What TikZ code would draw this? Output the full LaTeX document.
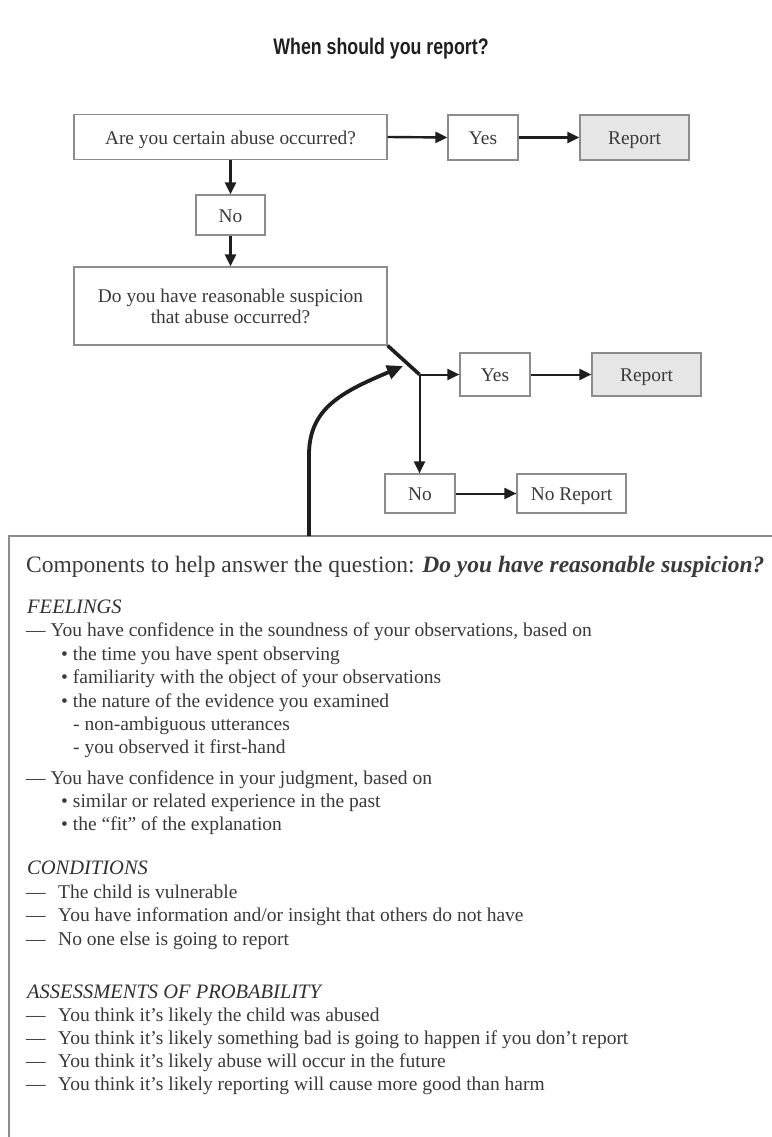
\documentclass[tikz,border=0pt]{standalone}
\usepackage{fontspec}
\setmainfont{Liberation Serif}
\newfontfamily\titlefont[FakeStretch=0.79]{Liberation Sans}
\usetikzlibrary{arrows.meta}
\definecolor{boxgray}{HTML}{8C8C8C}
\definecolor{repfill}{HTML}{E6E6E6}
\definecolor{arrowc}{HTML}{1E1E1E}
\definecolor{txt}{HTML}{3A3A3A}
\newcommand{\flowfont}{\fontsize{19.4}{21}\selectfont}
\newcommand{\listfont}{\fontsize{19.5}{23}\selectfont}
\newcommand{\secfont}{\fontsize{20.5}{23}\selectfont\itshape}
\tikzset{
  fbox/.style={draw=boxgray, line width=1.2pt, fill=white, inner sep=0pt,
    text=txt, font=\flowfont, align=center},
  onel/.style={fbox, text height=16pt, text depth=2pt},
  rbox/.style={onel, fill=repfill},
  arr/.style={draw=arrowc, line width=2.4pt, -{Triangle[length=12pt,width=11pt]}},
  thickline/.style={draw=arrowc, line width=3.6pt},
  bigarr/.style={draw=arrowc, line width=3.8pt, -{Triangle[length=16pt,width=14pt]}},
  tl/.style={anchor=base west, inner sep=0pt, text=txt, font=\listfont},
  sec/.style={anchor=base west, inner sep=0pt, text=txt!85!black, font=\secfont},
}
\begin{document}
\begin{tikzpicture}[x=1pt,y=-1pt]
\useasboundingbox (0,0) rectangle (771,1137);
\fill[white] (0,0) rectangle (771,1137);

% title
\node[anchor=base, inner sep=0pt, text=black!88, font=\titlefont\bfseries\fontsize{22.5}{24}\selectfont] (title) at (381,55) {When should you report?};

% upper flowchart
\node[onel, minimum width=313pt, minimum height=45pt] (a) at (230.5,137) {Are you certain abuse occurred?};
\node[onel, minimum width=70pt, minimum height=45pt] (yes1) at (483,137.5) {Yes};
\node[rbox, minimum width=109pt, minimum height=45pt] (rep1) at (634.5,137.5) {Report};
\node[onel, minimum width=69pt, minimum height=40pt] (no1) at (230.5,215) {No};
\node[fbox, minimum width=313pt, minimum height=78pt] (b) at (230.5,306) {Do you have reasonable suspicion\\that abuse occurred?};

\draw[arr] (a.east) -- (yes1.west);
\draw[arr] (yes1.east) -- (rep1.west);
\draw[arr] (a.south) -- (no1.north);
\draw[arr] (no1.south) -- (b.north);

% lower flowchart
\coordinate (fork) at (419.5,374.5);
\node[onel, minimum width=70pt, minimum height=43pt] (yes2) at (495,374.5) {Yes};
\node[rbox, minimum width=109pt, minimum height=43pt] (rep2) at (646.5,374.5) {Report};
\node[onel, minimum width=70pt, minimum height=39pt] (no2) at (420,493.5) {No};
\node[onel, minimum width=109pt, minimum height=39pt] (norep) at (571.5,493.5) {No Report};

\draw[thickline] (b.south east) -- (fork);
\draw[arr, line width=2pt] (fork) -- (yes2.west);
\draw[arr, line width=2pt] (yes2.east) -- (rep2.west);
\draw[arr, line width=2pt] (fork) -- (fork |- no2.north);
\draw[arr, line width=2pt] (no2.east) -- (norep.west);

% components panel
\draw[boxgray, line width=1.3pt] (775,536) -- (9,536) -- (9,1141);
\coordinate (src) at (309,536);
\coordinate (tip) at (403,366);
\draw[bigarr] (src) -- (309,455) .. controls (309,408) and (342,392) .. (tip);

\node[tl, font=\fontsize{23.5}{26}\selectfont] (head) at (26,572) {Components to help answer the question: \textbf{\textit{Do you have reasonable suspicion?}}};

\node[sec] (feel) at (27,613) {FEELINGS};
\node[tl] (f1) at (26,636) {—\hspace{4.9pt}You have confidence in the soundness of your observations, based on};
\node[tl] (f2) at (61,660) {•\hspace{4.9pt}the time you have spent observing};
\node[tl] (f3) at (61,683.5) {•\hspace{4.9pt}familiarity with the object of your observations};
\node[tl] (f4) at (61,707) {•\hspace{4.9pt}the nature of the evidence you examined};
\node[tl] (f5) at (73,730) {-\hspace{4.9pt}non-ambiguous utterances};
\node[tl] (f6) at (73,753) {-\hspace{4.9pt}you observed it first-hand};
\node[tl] (f7) at (26,784) {—\hspace{4.9pt}You have confidence in your judgment, based on};
\node[tl] (f8) at (61,807) {•\hspace{4.9pt}similar or related experience in the past};
\node[tl] (f9) at (61,830) {•\hspace{4.9pt}the “fit” of the explanation};

\node[sec] (cond) at (27,874) {CONDITIONS};
\node[tl] (c1) at (26,898) {—\hspace{12.5pt}The child is vulnerable};
\node[tl] (c2) at (26,921) {—\hspace{12.5pt}You have information and/or insight that others do not have};
\node[tl] (c3) at (26,945) {—\hspace{12.5pt}No one else is going to report};

\node[sec] (asse) at (27,998) {ASSESSMENTS OF PROBABILITY};
\node[tl] (p1) at (26,1021) {—\hspace{12.5pt}You think it’s likely the child was abused};
\node[tl] (p2) at (26,1044) {—\hspace{12.5pt}You think it’s likely something bad is going to happen if you don’t report};
\node[tl] (p3) at (26,1067) {—\hspace{12.5pt}You think it’s likely abuse will occur in the future};
\node[tl] (p4) at (26,1090) {—\hspace{12.5pt}You think it’s likely reporting will cause more good than harm};
\end{tikzpicture}
\end{document}
